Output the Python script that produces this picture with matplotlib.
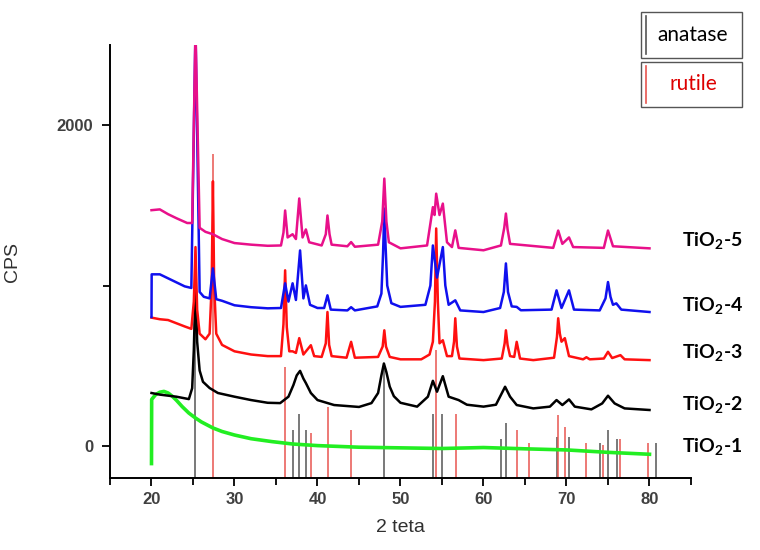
import matplotlib
matplotlib.use("Agg")
import matplotlib.pyplot as plt
from matplotlib.patches import Rectangle
from matplotlib.lines import Line2D
from matplotlib.ticker import MultipleLocator

plt.rcParams['mathtext.fontset'] = 'custom'
plt.rcParams['mathtext.rm'] = 'Lato'
plt.rcParams['mathtext.bf'] = 'Lato:bold'

# --- data (2 teta, CPS) ---
x1 = [20, 20.02, 20.5, 21, 21.5, 22, 22.5, 23, 23.7, 24.5, 25.3, 26, 27.4, 28.5, 30, 32,
      34.5, 37, 40, 45, 50, 55, 60, 65, 70, 75, 80]
y1 = [-110, 290, 320, 335, 340, 330, 310, 285, 245, 205, 174, 150, 112, 90, 68, 45,
      27, 12, 2, -8, -12, -16, -10, -18, -25, -40, -52]

x2 = [20, 21, 23, 24.5, 24.9, 25.1, 25.3, 25.5, 25.8, 26.2, 27, 28, 30, 32, 34, 35.5, 36.5,
      37.1, 37.5, 37.9, 38.3, 38.6, 39.2, 40, 42, 45, 46.5, 47.3, 47.7, 48, 48.3, 48.7, 49.2,
      50, 52, 53.3, 53.9, 54.4, 55.1, 55.8, 57, 58, 60, 61.5, 62.2, 62.6, 63.2, 64, 66, 68,
      68.8, 69.5, 70.3, 71, 73, 74.3, 75, 75.8, 77, 80]
y2 = [330, 320, 307, 292, 360, 600, 1000, 650, 470, 400, 361, 330, 307, 286, 269, 267, 307,
      380, 440, 468, 420, 392, 330, 286, 255, 243, 267, 330, 440, 514, 460, 370, 310,
      269, 245, 307, 406, 338, 435, 307, 286, 257, 245, 257, 328, 369, 307, 255, 234, 245,
      286, 255, 290, 245, 228, 265, 313, 265, 234, 224]

x3 = [20, 21, 22, 23, 24, 24.8, 25.1, 25.3, 25.5, 25.8, 26.5, 27.0, 27.25, 27.4, 27.55, 27.8,
      28.5, 30, 32, 34, 35.6, 35.9, 36.1, 36.3, 36.6, 37.0, 37.4, 37.8, 38.3, 39.2, 39.6,
      40.5, 41.0, 41.2, 41.4, 41.7, 43.5, 44.05, 44.5, 47.3, 47.85, 48.05, 48.25, 48.7, 50,
      52.5, 53.5, 53.9, 54.15, 54.3, 54.5, 54.7, 55.1, 55.6, 56.2, 56.45, 56.6, 56.8, 57.1,
      60, 62.2, 62.55, 62.7, 62.9, 63.2, 63.7, 64.0, 64.4, 66, 68.5, 68.85, 69.0, 69.2,
      69.4, 69.8, 70.3, 72, 72.4, 72.8, 74.5, 75.0, 75.5, 76.5, 77, 80]
y3 = [800, 790, 785, 765, 745, 730, 900, 1240, 850, 700, 665, 700, 1000, 1650, 1000, 700,
      630, 590, 570, 560, 560, 760, 1095, 740, 590, 590, 580, 672, 570, 628, 560,
      555, 640, 835, 630, 560, 550, 649, 550, 555, 620, 721, 620, 555, 540,
      540, 570, 650, 900, 1356, 900, 640, 659, 560, 560, 650, 796, 620, 545,
      535, 545, 640, 721, 630, 560, 555, 649, 545, 535, 550, 680, 796, 700,
      650, 672, 560, 540, 553, 540, 545, 587, 548, 566, 540, 535]

x4 = [20, 20.02, 21, 22, 23, 24, 24.8, 25.3, 25.8, 26.3, 27.0, 27.4, 27.8, 28.5, 30, 32, 34,
      35.6, 36.1, 36.5, 37.0, 37.4, 37.9, 38.3, 38.6, 39.1, 40, 40.8, 41.2, 41.6, 43.6,
      44.05, 44.5, 47.2, 47.7, 47.9, 48.05, 48.2, 48.4, 48.9, 50, 53.0, 53.6, 53.9, 54.4,
      55.1, 55.4, 55.8, 56.6, 57.2, 60, 62, 62.45, 62.7, 62.95, 63.4, 64, 64.5, 68.2, 68.8,
      69.4, 70.3, 70.9, 74, 74.7, 75.0, 75.3, 75.6, 76.0, 76.6, 80]
y4 = [804, 1070, 1070, 1045, 1020, 995, 985, 2600, 960, 930, 920, 1107, 915, 905, 877, 865, 858,
      860, 1014, 900, 1014, 910, 1219, 920, 1001, 880, 860, 860, 939, 850, 845,
      865, 845, 870, 950, 1200, 1480, 1250, 1000, 890, 867, 880, 1000, 1250, 1050,
      1240, 1000, 880, 908, 845, 835, 860, 960, 1138, 960, 870, 867, 846, 850, 970,
      860, 970, 850, 845, 920, 1022, 930, 880, 889, 850, 835]

x5 = [20, 21, 22, 23, 24.3, 24.9, 25.3, 25.8, 26.5, 27.4, 28.5, 30, 32, 34, 35.6, 35.9, 36.1,
      36.4, 37.0, 37.4, 37.8, 38.2, 38.6, 39.0, 40.5, 41.0, 41.2, 41.45, 41.7, 43.6, 44.05,
      44.5, 47.3, 47.8, 48.05, 48.3, 48.6, 50, 53.2, 53.9, 54.1, 54.3, 54.7, 55.1, 55.6,
      56.2, 56.6, 57.0, 60, 62.1, 62.5, 62.7, 62.9, 63.2, 68.4, 69.0, 69.5, 70.3, 70.8,
      74.5, 75.0, 75.6, 80]
y5 = [1470, 1475, 1445, 1420, 1390, 1390, 2600, 1360, 1335, 1320, 1290, 1265, 1255, 1248, 1250,
      1330, 1468, 1300, 1320, 1290, 1543, 1300, 1350, 1270, 1250, 1320, 1437, 1320, 1255,
      1245, 1271, 1242, 1255, 1400, 1667, 1400, 1270, 1232, 1250, 1489, 1440, 1573, 1440,
      1511, 1270, 1240, 1344, 1235, 1220, 1250, 1360, 1449, 1350, 1260, 1235, 1343, 1260,
      1300, 1240, 1235, 1343, 1245, 1232]

anatase_pos = [25.3, 37.0, 37.8, 38.6, 48.05, 53.9, 55.06, 62.1, 62.7, 68.8, 70.3, 74.05,
               75.05, 76.05, 80.75]
anatase_top = [800, 100, 199, 100, 493, 199, 199, 42, 141, 54, 54, 17, 100, 42, 17]
rutile_pos = [27.44, 36.08, 39.2, 41.25, 44.05, 54.32, 56.64, 64.04, 65.48, 69.0, 69.8,
              72.4, 74.4, 76.5, 79.85]
rutile_top = [1822, 493, 81, 244, 100, 597, 199, 100, 17, 193, 120, 17, 5, 42, 17]

labels = ['TiO$_\\mathbf{2}$-5', 'TiO$_\\mathbf{2}$-4', 'TiO$_\\mathbf{2}$-3',
          'TiO$_\\mathbf{2}$-2', 'TiO$_\\mathbf{2}$-1']
label_ypix = [241, 306, 353, 405, 447]

fig = plt.figure(figsize=(7.6, 5.5), dpi=100)
ax = fig.add_axes([110/760, 1-478/550, 581/760, 433/550])

ymin = -200
ax.vlines(anatase_pos, ymin, anatase_top, color='#555555', lw=1.1, zorder=1)
ax.vlines(rutile_pos, ymin, rutile_top, color='#e8554f', lw=1.1, zorder=1)

ax.plot(x1, y1, color='#22ee22', lw=2.6, zorder=2)
ax.plot(x2, y2, color='black', lw=1.8, zorder=2)
ax.plot(x3, y3, color='#ff1010', lw=1.8, zorder=2)
ax.plot(x4, y4, color='#1010ee', lw=1.8, zorder=2)
ax.plot(x5, y5, color='#e8108a', lw=1.8, zorder=2)

ax.set_xlim(15, 85)
ax.set_ylim(ymin, 2500)
ax.xaxis.set_major_locator(MultipleLocator(10))
ax.xaxis.set_minor_locator(MultipleLocator(5))
ax.set_yticks([0, 2000])
ax.set_yticks([1000], minor=True)
for s in ['top', 'right']:
    ax.spines[s].set_visible(False)
for s in ['left', 'bottom']:
    ax.spines[s].set_linewidth(1.4)
ax.tick_params(which='major', length=6, width=1.3, labelsize=12, labelcolor='#404040')
ax.tick_params(axis='x', which='major', pad=4)
ax.tick_params(axis='y', which='major', pad=6)
ax.tick_params(which='minor', length=5, width=1.3)
for t in ax.get_xticklabels() + ax.get_yticklabels():
    t.set_fontfamily('Liberation Sans')
    t.set_fontweight('bold')
ax.set_xlabel('2 teta', fontsize=14, family='Liberation Sans', color='#303030', labelpad=9)
ax.set_ylabel('CPS', fontsize=14, family='Liberation Sans', color='#303030', labelpad=26)

for lab, yp in zip(labels, label_ypix):
    fig.text(682/760, 1-yp/550, lab, fontsize=14, fontweight='bold', family='Lato',
             va='center', ha='left')

# legend boxes
def px(x, y):
    return x/760, 1-y/550

for (top, bot, col, txt, tcol) in [(11.7, 58, '#555555', 'anatase', 'black'),
                                   (61.7, 106.7, '#e8554f', 'rutile', '#dd0000')]:
    x0, y0 = px(641, bot)
    fig.add_artist(Rectangle((x0, y0), 101/760, (bot-top)/550, transform=fig.transFigure,
                             fill=False, ec='#555555', lw=1))
    fig.add_artist(Line2D([645.5/760]*2, [1-(top+4)/550, 1-(bot-4)/550],
                          transform=fig.transFigure, color=col, lw=1.2))
    cx, cy = px(693, (top+bot)/2)
    fig.text(cx, cy, txt, fontsize=15, family='Lato', color=tcol, ha='center', va='center')

fig.savefig('out.png', dpi=100)
